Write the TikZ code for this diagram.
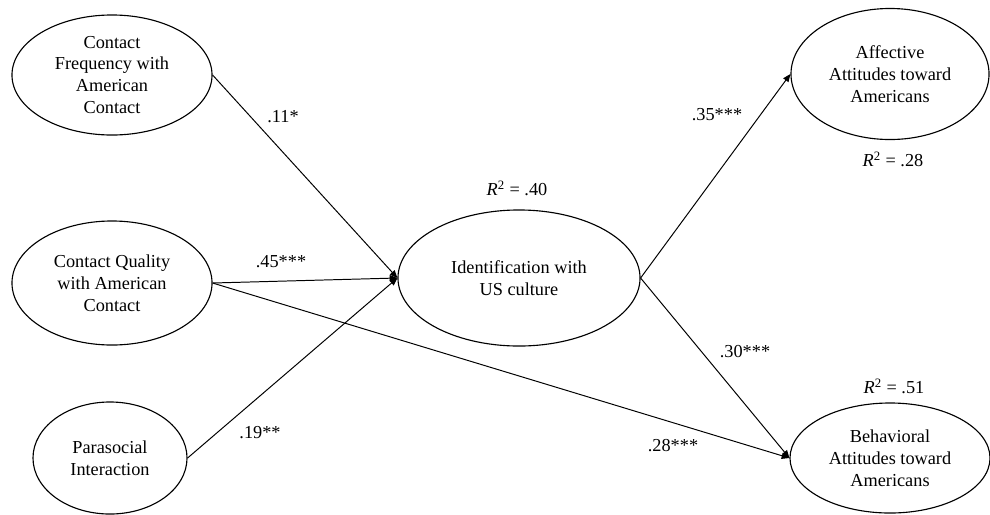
\documentclass[tikz,border=0pt]{standalone}
\usepackage{fontspec}
\setmainfont{Liberation Serif}
\usetikzlibrary{arrows.meta,shapes.geometric}

\begin{document}
\begin{tikzpicture}[x=0.025cm,y=-0.025cm,>={Triangle[length=5.5pt,width=4.5pt]},
    construct/.style={ellipse,draw,line width=0.8pt,inner sep=0pt,align=center,
        font=\fontsize{13}{15.6}\selectfont},
    coef/.style={inner sep=0pt,font=\fontsize{13}{15.6}\selectfont},
    link/.style={->,line width=0.7pt}]
    \useasboundingbox (0,0) rectangle (990,514);

    % Predictors
    \node[construct,minimum width=5cm,minimum height=3cm] (freq) at (112,75)
        {Contact\\Frequency with\\American\\Contact};
    \node[construct,minimum width=5cm,minimum height=3.1cm] (qual) at (112,283)
        {Contact Quality\\with American\\Contact};
    \node[construct,minimum width=3.85cm,minimum height=2.8cm] (para) at (110,458)
        {Parasocial\\Interaction};

    % Mediator
    \node[construct,minimum width=6.05cm,minimum height=3.4cm] (ident) at (519,278)
        {Identification with\\US culture};
    \node[coef] (r40) at (517,188) {\textit{R}\textsuperscript{2} = .40};

    % Outcomes
    \node[construct,minimum width=4.95cm,minimum height=3.275cm] (affect) at (890,74)
        {Affective\\Attitudes toward\\Americans};
    \node[coef] (r28) at (893,159) {\textit{R}\textsuperscript{2} = .28};
    \node[construct,minimum width=5cm,minimum height=2.75cm] (behav) at (890,458)
        {Behavioral\\Attitudes toward\\Americans};
    \node[coef] (r51) at (894,386) {\textit{R}\textsuperscript{2} = .51};

    % Paths
    \draw[link] (freq.east) -- (ident.west);
    \draw[link] (qual.east) -- (ident.west);
    \draw[link] (para.east) -- (ident.west);
    \draw[link] (qual.east) -- (behav.west);
    \draw[link] (ident.east) -- (affect.west);
    \draw[link] (ident.east) -- (behav.west);

    % Coefficients
    \node[coef] (b11) at (283,117) {.11*};
    \node[coef] (b45) at (281,262) {.45***};
    \node[coef] (b19) at (260,433) {.19**};
    \node[coef] (b35) at (717,115) {.35***};
    \node[coef] (b30) at (745,352) {.30***};
    \node[coef] (b28) at (673,446) {.28***};
\end{tikzpicture}
\end{document}
